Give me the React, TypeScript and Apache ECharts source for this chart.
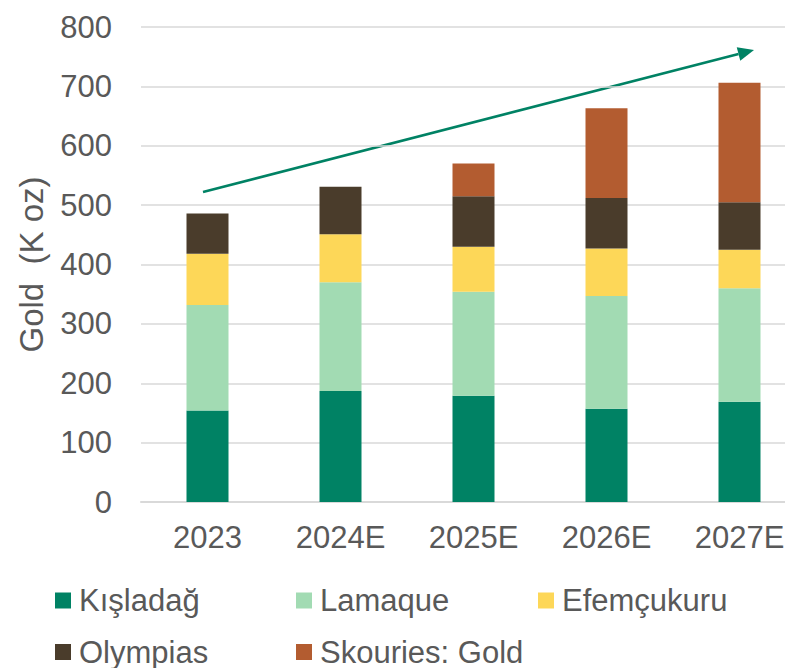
import React, { useEffect, useRef } from "react";
import * as echarts from "echarts";

const categories = ["2023", "2024E", "2025E", "2026E", "2027E"];
const kisladag = [154, 187, 179, 157, 169];
const lamaque = [178, 183, 175, 190, 191];
const efemcukuru = [86, 81, 76, 80, 65];
const olympias = [68, 80, 85, 85, 80];
const skouries = [0, 0, 55, 151, 201];
const seriesNames = ["Kışladağ", "Lamaque", "Efemçukuru", "Olympias", "Skouries: Gold"];
const seriesColors = ["#008264", "#A2DBB3", "#FDD758", "#4A3C2B", "#B35C30"];
const seriesValues = [kisladag, lamaque, efemcukuru, olympias, skouries];

const FONT = "'Liberation Sans', Arial, sans-serif";
const TEXT = "#595959";

export default function App() {
  const ref = useRef<HTMLDivElement>(null);
  useEffect(() => {
    if (!ref.current) return;
    const chart = echarts.init(ref.current, null, { renderer: "svg" });
    const legendPos = [
      [55, 600.5],
      [296, 600.5],
      [538, 600.5],
      [55, 652],
      [296, 652],
    ];
    // arrow geometry
    const sx = 203, sy = 192, tx = 754, ty = 50;
    const dx = tx - sx, dy = ty - sy;
    const len = Math.sqrt(dx * dx + dy * dy);
    const ux = dx / len, uy = dy / len;
    const nx = -uy, ny = ux;
    const hl = 16, hw = 7;
    const bx = tx - hl * ux, by = ty - hl * uy;
    chart.setOption({
      animation: false,
      textStyle: { fontFamily: FONT },
      grid: { left: 141, top: 27, width: 665, height: 475, containLabel: false },
      legend: seriesNames.map((n, i) => ({
        data: [n],
        left: legendPos[i][0],
        top: legendPos[i][1] - 16,
        padding: 0,
        itemWidth: 16,
        itemHeight: 16,
        icon: "rect",
        selectedMode: false,
        textStyle: {
          fontSize: 31,
          color: TEXT,
          fontFamily: FONT,
          lineHeight: 32,
          padding: [0, 0, 0, 3],
        },
      })),
      xAxis: {
        type: "category",
        data: categories,
        axisTick: { show: false },
        axisLine: { lineStyle: { color: "#d9d9d9", width: 2 } },
        axisLabel: { fontSize: 31, color: TEXT, margin: 20, fontFamily: FONT },
      },
      yAxis: {
        type: "value",
        min: 0,
        max: 800,
        interval: 100,
        name: "Gold  (K oz)",
        nameLocation: "middle",
        nameGap: 93,
        nameTextStyle: { fontSize: 33, color: TEXT, fontFamily: FONT },
        axisLine: { show: false },
        axisTick: { show: false },
        axisLabel: { fontSize: 31, color: TEXT, margin: 29, fontFamily: FONT },
        splitLine: { lineStyle: { color: "#d9d9d9", width: 1.5 } },
      },
      series: seriesNames.map((n, i) => ({
        name: n,
        type: "bar",
        stack: "gold",
        barWidth: 42,
        data: seriesValues[i],
        itemStyle: { color: seriesColors[i] },
      })),
      graphic: [
        {
          type: "line",
          shape: { x1: sx, y1: sy, x2: bx, y2: by },
          style: { stroke: "#008264", lineWidth: 2.5 },
        },
        {
          type: "polygon",
          shape: {
            points: [
              [tx, ty],
              [bx + hw * nx, by + hw * ny],
              [bx - hw * nx, by - hw * ny],
            ],
          },
          style: { fill: "#008264" },
        },
      ],
    });
    return () => chart.dispose();
  }, []);
  return (
    <div
      style={{ position: "fixed", left: 0, top: 0, width: 785, height: 668, overflow: "hidden", background: "#fff" }}
    >
      <div ref={ref} style={{ width: 806, height: 668 }} />
    </div>
  );
}
